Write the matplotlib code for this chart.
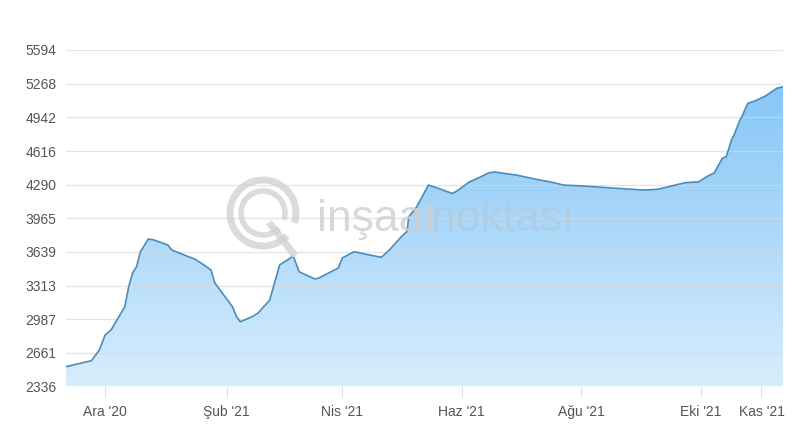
import numpy as np
import pandas as pd
import matplotlib
matplotlib.use('Agg')
import matplotlib.pyplot as plt
import matplotlib.dates as mdates
from matplotlib.patches import Arc, Polygon

# veri: tarih - fiyat
tarihler = ['2020-11-11', '2020-11-24', '2020-11-28', '2020-12-01', '2020-12-04',
            '2020-12-07', '2020-12-11', '2020-12-13', '2020-12-15', '2020-12-17',
            '2020-12-19', '2020-12-23', '2020-12-26', '2021-01-02', '2021-01-04',
            '2021-01-16', '2021-01-19', '2021-01-24', '2021-01-26', '2021-02-04',
            '2021-02-06', '2021-02-08', '2021-02-14', '2021-02-17', '2021-02-23',
            '2021-02-28', '2021-03-04', '2021-03-07', '2021-03-10', '2021-03-18',
            '2021-03-20', '2021-03-29', '2021-03-30', '2021-04-01', '2021-04-07',
            '2021-04-15', '2021-04-21', '2021-04-25', '2021-05-02', '2021-05-04',
            '2021-05-05', '2021-05-09', '2021-05-15', '2021-05-20', '2021-05-27',
            '2021-05-29', '2021-06-05', '2021-06-08', '2021-06-15', '2021-06-18',
            '2021-06-29', '2021-07-09', '2021-07-16', '2021-07-23', '2021-08-02',
            '2021-08-19', '2021-09-02', '2021-09-09', '2021-09-16', '2021-09-23',
            '2021-09-30', '2021-10-04', '2021-10-08', '2021-10-12', '2021-10-14',
            '2021-10-17', '2021-10-18', '2021-10-21', '2021-10-22', '2021-10-25',
            '2021-10-29', '2021-11-03', '2021-11-09', '2021-11-12']
fiyatlar = [2528, 2586, 2689, 2835, 2883,
            2980, 3108, 3302, 3435, 3496,
            3641, 3764, 3754, 3706, 3657,
            3567, 3531, 3464, 3338, 3108,
            3012, 2963, 3012, 3047, 3173,
            3512, 3561, 3599, 3447, 3377,
            3386, 3473, 3483, 3580, 3641,
            3609, 3587, 3657, 3803, 3835,
            3980, 4076, 4286, 4255, 4206,
            4222, 4318, 4342, 4406, 4412,
            4383, 4342, 4318, 4286, 4277,
            4255, 4238, 4245, 4277, 4309,
            4318, 4367, 4406, 4545, 4561,
            4739, 4770, 4916, 4948, 5077,
            5103, 5148, 5225, 5238]

y_ticks = [2336, 2661, 2987, 3313, 3639, 3965, 4290, 4616, 4942, 5268, 5594]
x_tick_tarih = ['2020-12-01', '2021-02-01', '2021-04-01', '2021-06-01',
                '2021-08-01', '2021-10-01', '2021-11-01']
x_tick_etiket = ["Ara '20", "Şub '21", "Nis '21", "Haz '21", "Ağu '21", "Eki '21", "Kas '21"]

x = mdates.date2num(pd.to_datetime(tarihler))
y = np.array(fiyatlar)
ymin, ymax = y_ticks[0], y_ticks[-1]

plt.rcParams['font.family'] = ['Liberation Sans', 'DejaVu Sans']

fig = plt.figure(figsize=(8, 4.36), dpi=100)
ax = fig.add_axes([66 / 800, 1 - 386.5 / 436, (783 - 66) / 800, (386.5 - 50) / 436])
ax.set_xlim(x[0], x[-1])
ax.set_ylim(ymin, ymax)

# watermark (logo)
fig.text(317 / 800, 1 - 231 / 436, 'inşaat', fontsize=32, color='#cfcfcf', alpha=0.8,
         ha='left', va='baseline', fontweight='light', zorder=0)
fig.text(431 / 800, 1 - 231 / 436, 'noktası', fontsize=32, color='#b5c7d6', alpha=0.6,
         ha='left', va='baseline', fontweight='light', zorder=0)
cx, cy = 263 / 800, 1 - 213 / 436
for r, lw in [(33, 5), (22, 4)]:
    arc = Arc((cx, cy), 2 * r / 800, 2 * r / 436, theta1=-30, theta2=300,
              transform=fig.transFigure, color='#d2d2d2', lw=lw, alpha=0.8)
    fig.add_artist(arc)
fig.add_artist(plt.Line2D([cx + 8 / 800, cx + 30 / 800], [cy - 12 / 436, cy - 40 / 436],
                          transform=fig.transFigure, color='#d2d2d2', lw=5, alpha=0.8))

# gradient dolgu
grad = np.linspace(0, 1, 256).reshape(-1, 1)
cmap = matplotlib.colors.LinearSegmentedColormap.from_list(
    'mavi', ['#d8edfc', '#a9d7fa', '#7cc2f7'])
img = ax.imshow(grad, aspect='auto', cmap=cmap, origin='lower',
                extent=[x[0], x[-1], ymin, ymax], zorder=1)
verts = np.vstack([[x[0], ymin], np.column_stack([x, y]), [x[-1], ymin]])
poly = Polygon(verts, closed=True, facecolor='none', edgecolor='none')
ax.add_patch(poly)
img.set_clip_path(poly)

ax.plot(x, y, color='#4a8dbd', lw=1.2, zorder=3)

for t in y_ticks:
    ax.axhline(t, color='#d9d9d9', lw=0.9, alpha=0.7, zorder=2)

ax.set_yticks(y_ticks)
ax.set_yticklabels([str(t) for t in y_ticks])
ax.set_xticks(mdates.date2num(pd.to_datetime(x_tick_tarih)))
ax.set_xticklabels(x_tick_etiket)
ax.tick_params(axis='y', length=0, pad=7, labelsize=10, labelcolor='#555555')
ax.tick_params(axis='x', length=7, width=0.8, color='#dddddd', pad=6,
               labelsize=10, labelcolor='#555555')
for s in ax.spines.values():
    s.set_visible(False)

fig.savefig('out.png', dpi=100)
